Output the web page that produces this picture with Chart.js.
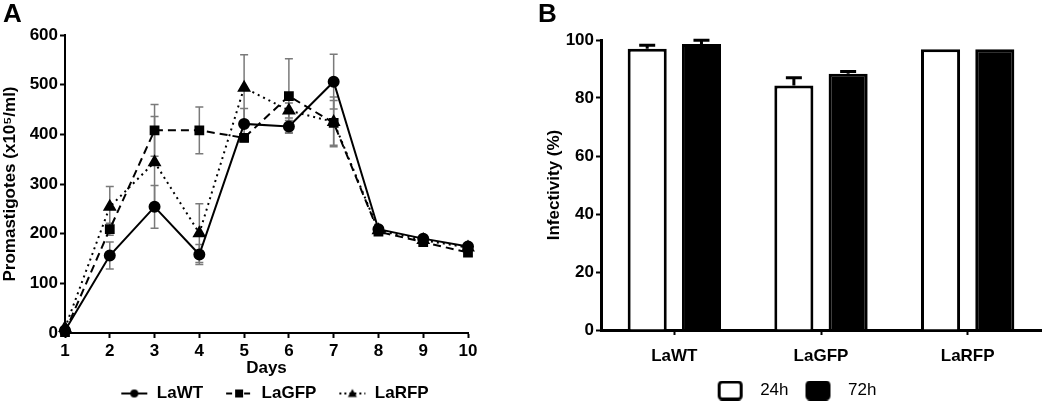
<!DOCTYPE html>
<html lang="en">
<head>
  <meta charset="UTF-8" />
  <title>Promastigotes growth and infectivity</title>
  <script src="https://cdn.jsdelivr.net/npm/chart.js"></script>
  <style>
    body {
      margin: 0;
      background: #fff;
      font-family: "Liberation Sans", Arial, sans-serif;
    }
    .panel {
      position: absolute;
      top: 0;
      height: 402px;
      overflow: hidden;
    }
    #panelA { left: 0; width: 520px; }
    #panelB { left: 520px; width: 530px; }
    .letter {
      position: absolute;
      top: -2px;
      font-weight: bold;
      font-size: 26px;
      z-index: 2;
    }
  </style>
</head>
<body>

  <div class="letter" style="left:3px">A</div>
  <div class="letter" style="left:538px">B</div>

  <div class="panel" id="panelA"><canvas id="growthChart" width="520" height="402"></canvas></div>
  <div class="panel" id="panelB"><canvas id="infectChart" width="530" height="402"></canvas></div>

  <script>
    // Panel A - growth curve
    const days = [1, 2, 3, 4, 5, 6, 7, 8, 9, 10];
    const laWT  = [5, 156, 254, 158, 421, 416, 506, 209, 190, 174];
    const laGFP = [2, 209, 408, 408, 393, 477, 423, 204, 183, 162];
    const laRFP = [10, 254, 344, 201, 494, 448, 425, 207, 187, 172];
    const laWTErr  = [0, 27, 43, 20, 31, 12, 55, 4, 4, 4];
    const laGFPErr = [0, 12, 52, 47, 8, 75, 45, 4, 4, 4];
    const laRFPErr = [0, 41, 92, 59, 66, 15, 50, 4, 4, 4];

    // Panel B - infectivity
    const strains = ['LaWT', 'LaGFP', 'LaRFP'];
    const inf24 = [97.0, 84.3, 96.8];
    const inf72 = [98.6, 88.4, 96.8];
    const inf24Err = [1.2, 2.7, 0];
    const inf72Err = [1.3, 0.7, 0];

    const boldFont = size => ({ family: '"Liberation Sans", Arial, sans-serif', size: size, weight: 'bold' });

    // legend marker: blank margin on the left, then line + symbol
    function legendMarker(shape, dash) {
      const c = document.createElement('canvas');
      c.width = 44; c.height = 12;
      const g = c.getContext('2d');
      g.strokeStyle = '#000';
      g.fillStyle = '#000';
      g.lineWidth = 2;
      g.setLineDash(dash);
      g.beginPath(); g.moveTo(17, 6); g.lineTo(43, 6); g.stroke();
      g.setLineDash([]);
      g.beginPath();
      if (shape === 'circle') g.arc(30, 6, 4, 0, Math.PI * 2);
      else if (shape === 'rect') g.rect(26, 2, 8, 8);
      else { g.moveTo(30, 1.5); g.lineTo(34.5, 9.5); g.lineTo(25.5, 9.5); g.closePath(); }
      g.fill();
      return c;
    }

    // legend box with blank margins either side
    function legendBox(filled) {
      const c = document.createElement('canvas');
      c.width = 43; c.height = 20;
      const g = c.getContext('2d');
      g.fillStyle = filled ? '#000' : '#fff';
      g.strokeStyle = '#000';
      g.lineWidth = 3;
      g.beginPath();
      g.roundRect(10.5, 1.5, 22, 17, 3);
      g.fill();
      g.stroke();
      return c;
    }

    const growthErrors = [laWTErr, laGFPErr, laRFPErr];

    const errorBarsA = {
      id: 'errorBarsA',
      beforeDatasetsDraw(chart) {
        const ctx = chart.ctx;
        const xs = chart.scales.x, ys = chart.scales.y;
        ctx.save();
        ctx.strokeStyle = '#7a7a7a';
        ctx.lineWidth = 1.5;
        chart.data.datasets.forEach((ds, d) => {
          ds.data.forEach((p, i) => {
            const e = growthErrors[d][i];
            if (!e) return;
            const x = xs.getPixelForValue(p.x);
            const yTop = ys.getPixelForValue(p.y + e);
            const yBot = ys.getPixelForValue(p.y - e);
            ctx.beginPath();
            ctx.moveTo(x, yTop); ctx.lineTo(x, yBot);
            ctx.moveTo(x - 4, yTop); ctx.lineTo(x + 4, yTop);
            ctx.moveTo(x - 4, yBot); ctx.lineTo(x + 4, yBot);
            ctx.stroke();
          });
        });
        ctx.restore();
      }
    };

    function series(values) {
      return days.map((d, i) => ({ x: d, y: values[i] }));
    }

    new Chart(document.getElementById('growthChart'), {
      type: 'line',
      data: {
        datasets: [
          { label: 'LaWT', data: series(laWT), borderColor: '#000', backgroundColor: '#000', borderWidth: 2,
            pointStyle: 'circle', pointRadius: 5, tension: 0 },
          { label: 'LaGFP', data: series(laGFP), borderColor: '#000', backgroundColor: '#000', borderWidth: 2,
            borderDash: [8, 5], pointStyle: 'rect', pointRadius: 5.5, tension: 0 },
          { label: 'LaRFP', data: series(laRFP), borderColor: '#000', backgroundColor: '#000', borderWidth: 2,
            borderDash: [2, 4], pointStyle: 'triangle', pointRadius: 6, tension: 0 }
        ]
      },
      options: {
        responsive: false,
        animation: false,
        clip: false,
        layout: { padding: { top: 35, right: 52, left: 0, bottom: -10 } },
        plugins: {
          tooltip: { enabled: false },
          legend: {
            position: 'bottom',
            fullSize: false,
            labels: {
              color: '#000',
              font: boldFont(17),
              usePointStyle: true,
              pointStyleWidth: 44,
              padding: 6,
              generateLabels(chart) {
                const shapes = [['circle', []], ['rect', [6, 3]], ['triangle', [2, 3]]];
                return chart.data.datasets.map((ds, i) => ({
                  text: ds.label,
                  pointStyle: legendMarker(shapes[i][0], shapes[i][1]),
                  fillStyle: '#000', strokeStyle: '#000', lineWidth: 0,
                  fontColor: '#000', datasetIndex: i
                }));
              }
            }
          }
        },
        scales: {
          x: {
            type: 'linear', min: 1, max: 10,
            afterFit(scale) { scale.height = 46; },
            border: { color: '#000', width: 2 },
            grid: { drawOnChartArea: false, drawTicks: true, tickLength: 5, tickColor: '#000', tickWidth: 2 },
            ticks: { stepSize: 1, color: '#000', font: boldFont(17), padding: 3 },
            title: { display: true, text: 'Days', color: '#000', font: boldFont(17), padding: 0 }
          },
          y: {
            min: 0, max: 600,
            afterFit(scale) { scale.width = 65; },
            border: { color: '#000', width: 2 },
            grid: { drawOnChartArea: false, drawTicks: true, tickLength: 5, tickColor: '#000', tickWidth: 2 },
            ticks: { stepSize: 100, color: '#000', font: boldFont(17), padding: 2 },
            title: { display: true, text: 'Promastigotes (x10\u2075/ml)', color: '#000', font: boldFont(17), padding: 0 }
          }
        }
      },
      plugins: [errorBarsA]
    });

    const infectErrors = [inf24Err, inf72Err];

    const errorBarsB = {
      id: 'errorBarsB',
      afterDatasetsDraw(chart) {
        const ctx = chart.ctx;
        const ys = chart.scales.y;
        ctx.save();
        ctx.strokeStyle = '#000';
        ctx.lineWidth = 3;
        chart.data.datasets.forEach((ds, d) => {
          const meta = chart.getDatasetMeta(d);
          meta.data.forEach((bar, i) => {
            const e = infectErrors[d][i];
            if (!e) return;
            const yTop = ys.getPixelForValue(ds.data[i] + e);
            ctx.beginPath();
            ctx.moveTo(bar.x, bar.y); ctx.lineTo(bar.x, yTop);
            ctx.moveTo(bar.x - 8, yTop); ctx.lineTo(bar.x + 8, yTop);
            ctx.stroke();
          });
        });
        ctx.restore();
      }
    };

    new Chart(document.getElementById('infectChart'), {
      type: 'bar',
      data: {
        labels: strains,
        datasets: [
          { label: '24h', data: inf24, backgroundColor: '#fff', borderColor: '#000', borderWidth: 3,
            categoryPercentage: 0.74, barPercentage: 0.72 },
          { label: '72h', data: inf72, backgroundColor: '#000', borderColor: '#000', borderWidth: 3,
            categoryPercentage: 0.74, barPercentage: 0.72 }
        ]
      },
      options: {
        responsive: false,
        animation: false,
        layout: { padding: { top: 40, right: 9, left: 24, bottom: -7 } },
        plugins: {
          tooltip: { enabled: false },
          legend: {
            position: 'bottom',
            labels: {
              color: '#000',
              font: { family: '"Liberation Sans", Arial, sans-serif', size: 17 },
              usePointStyle: true,
              pointStyleWidth: 43,
              padding: 8,
              generateLabels(chart) {
                return chart.data.datasets.map((ds, i) => ({
                  text: ds.label,
                  pointStyle: legendBox(i === 1),
                  fillStyle: ds.backgroundColor, strokeStyle: '#000', lineWidth: 0,
                  fontColor: '#000', datasetIndex: i
                }));
              }
            }
          }
        },
        scales: {
          x: {
            afterFit(scale) { scale.height = 44; },
            border: { color: '#000', width: 3 },
            grid: { offset: false, drawOnChartArea: false, drawTicks: true, tickLength: 5, tickColor: '#000', tickWidth: 2 },
            ticks: { color: '#000', font: boldFont(17), padding: 11 }
          },
          y: {
            min: 0, max: 100,
            afterFit(scale) { scale.width = 57; },
            border: { color: '#000', width: 3 },
            grid: { drawOnChartArea: false, drawTicks: true, tickLength: 5, tickColor: '#000', tickWidth: 2 },
            ticks: { stepSize: 20, color: '#000', font: boldFont(17), padding: 2 },
            title: { display: true, text: 'Infectivity (%)', color: '#000', font: boldFont(17), padding: 0 }
          }
        }
      },
      plugins: [errorBarsB]
    });
  </script>
</body>
</html>
